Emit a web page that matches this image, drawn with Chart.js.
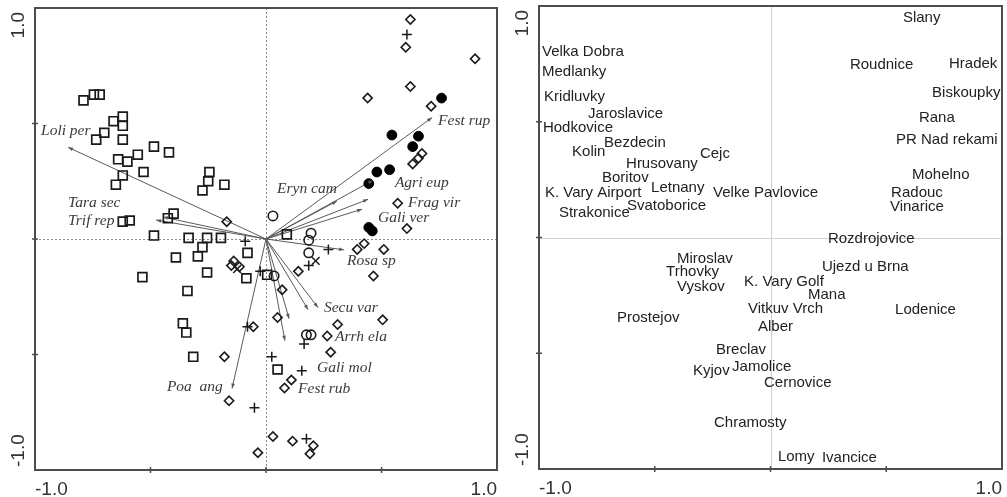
<!DOCTYPE html>
<html><head><meta charset="utf-8">
<script src="https://cdn.jsdelivr.net/npm/chart.js@4"></script>
<style>
html,body{margin:0;padding:0;background:#fff;}
#wrap{position:relative;width:1007px;height:497px;overflow:hidden;background:#fff;}
canvas{position:absolute;top:0;}
#c1{left:0;}
#c2{left:505px;}
</style></head><body>
<div id="wrap"><canvas id="c1" width="510" height="497"></canvas><canvas id="c2" width="502" height="497"></canvas></div>
<script>
// ---------- DATA (left panel: samples & species) ----------
const squares = [[-0.79,0.60],[-0.745,0.625],[-0.72,0.625],[-0.66,0.51],[-0.62,0.53],[-0.62,0.49],[-0.70,0.46],[-0.735,0.43],[-0.62,0.43],[-0.485,0.40],[-0.42,0.375],[-0.64,0.345],[-0.60,0.335],[-0.555,0.365],[-0.53,0.29],[-0.62,0.275],[-0.65,0.235],[-0.245,0.29],[-0.25,0.25],[-0.275,0.21],[-0.18,0.235],[-0.40,0.11],[-0.425,0.09],[-0.62,0.075],[-0.59,0.08],[-0.485,0.015],[-0.335,0.005],[-0.255,0.005],[-0.195,0.005],[-0.275,-0.035],[-0.39,-0.08],[-0.295,-0.075],[-0.08,-0.06],[-0.535,-0.165],[-0.255,-0.145],[-0.085,-0.17],[0.005,-0.155],[-0.34,-0.225],[-0.36,-0.365],[-0.345,-0.405],[-0.315,-0.51],[0.09,0.02],[0.05,-0.565]];
const diamonds = [[0.625,0.95],[0.605,0.83],[0.905,0.78],[0.625,0.66],[0.44,0.61],[0.715,0.575],[0.675,0.37],[0.66,0.35],[0.635,0.325],[0.57,0.155],[0.61,0.045],[-0.17,0.075],[-0.14,-0.095],[-0.15,-0.115],[-0.115,-0.12],[0.395,-0.045],[0.425,-0.02],[0.51,-0.045],[0.14,-0.14],[0.465,-0.16],[0.07,-0.22],[0.05,-0.34],[-0.055,-0.38],[0.31,-0.37],[0.505,-0.35],[0.265,-0.42],[0.28,-0.49],[-0.18,-0.51],[0.11,-0.61],[0.08,-0.645],[-0.16,-0.70],[0.03,-0.855],[0.115,-0.875],[0.205,-0.895],[0.19,-0.93],[-0.035,-0.925]];
const pluses = [[0.61,0.885],[-0.09,-0.01],[-0.025,-0.14],[0.27,-0.045],[0.185,-0.115],[-0.08,-0.38],[0.165,-0.455],[0.025,-0.51],[0.155,-0.57],[-0.05,-0.73],[0.175,-0.865]];
const crosses = [[-0.125,-0.13],[0.215,-0.095]];
const openCircles = [[0.03,0.10],[0.195,0.025],[0.185,-0.005],[0.185,-0.06],[0.035,-0.16],[0.175,-0.415],[0.195,-0.415]];
const filledCircles = [[0.76,0.61],[0.545,0.45],[0.66,0.445],[0.635,0.40],[0.535,0.30],[0.48,0.29],[0.445,0.24],[0.445,0.05],[0.46,0.035]];

const speciesNames = ['Loli per','Tara sec','Trif rep','Fest rup','Eryn cam','Agri eup','Frag vir','Gali ver','Rosa sp','Secu var','Arrh ela','Gali mol','Fest rub','Poa  ang'];
const speciesX = [-0.857,-0.446,-0.476,0.719,0.307,0.463,0.442,0.416,0.338,0.225,0.182,0.100,0.082,-0.147];
const speciesY = [0.397,0.095,0.082,0.526,0.164,0.254,0.172,0.129,-0.047,-0.297,-0.306,-0.345,-0.440,-0.647];
const speciesLabelX = [-0.974,-0.857,-0.857,0.745,0.048,0.558,0.615,0.485,0.351,0.251,0.299,0.221,0.139,-0.429];
const speciesLabelY = [0.470,0.155,0.078,0.509,0.216,0.241,0.155,0.091,-0.095,-0.297,-0.422,-0.556,-0.647,-0.642];

// ---------- DATA (right panel: sites) ----------
const siteNames = ['Velka Dobra','Medlanky','Kridluvky','Jaroslavice','Hodkovice','Bezdecin','Kolin','Cejc','Hrusovany','Boritov','Letnany','K. Vary Airport','Velke Pavlovice','Svatoborice','Strakonice','Slany','Roudnice','Hradek','Biskoupky','Rana','PR Nad rekami','Mohelno','Radouc','Vinarice','Rozdrojovice','Miroslav','Trhovky','Vyskov','K. Vary Golf','Ujezd u Brna','Mana','Prostejov','Vitkuv Vrch','Lodenice','Alber','Breclav','Kyjov','Jamolice','Cernovice','Chramosty','Lomy','Ivancice'];
const siteX = [-0.987,-0.987,-0.978,-0.788,-0.983,-0.719,-0.857,-0.305,-0.624,-0.728,-0.516,-0.974,-0.248,-0.620,-0.914,0.572,0.343,0.771,0.698,0.641,0.542,0.611,0.521,0.516,0.248,-0.404,-0.451,-0.404,-0.114,0.222,0.162,-0.663,-0.097,0.538,-0.054,-0.235,-0.335,-0.166,-0.028,-0.244,0.032,0.222];
const siteY = [0.801,0.715,0.607,0.533,0.473,0.408,0.369,0.361,0.317,0.257,0.214,0.192,0.192,0.136,0.106,0.948,0.745,0.749,0.624,0.516,0.421,0.270,0.192,0.132,-0.004,-0.093,-0.149,-0.214,-0.192,-0.127,-0.248,-0.348,-0.309,-0.313,-0.387,-0.486,-0.577,-0.559,-0.629,-0.801,-0.948,-0.952];

// ---------- AXES ----------
const axisMin = -1, axisMax = 1;
const axisEndLabels = ['-1.0','1.0'];
const innerTicks = [-0.5, 0, 0.5];

const pts = arr => arr.map(p => ({x:p[0], y:p[1]}));

function framePlugin(zeroColor, zeroDash) {
  return {
    id: 'frame',
    beforeDatasetsDraw(chart) {
      const {ctx, chartArea:a, scales:{x, y}} = chart;
      ctx.save();
      ctx.strokeStyle = zeroColor; ctx.lineWidth = 1; ctx.setLineDash(zeroDash);
      const x0 = Math.round(x.getPixelForValue(0)) + 0.5, y0 = Math.round(y.getPixelForValue(0)) + 0.5;
      ctx.beginPath();
      ctx.moveTo(x0, a.top); ctx.lineTo(x0, a.bottom);
      ctx.moveTo(a.left, y0); ctx.lineTo(a.right, y0);
      ctx.stroke();
      ctx.restore();
    },
    afterDatasetsDraw(chart) {
      const {ctx, chartArea:a, scales:{x, y}} = chart;
      ctx.save();
      ctx.strokeStyle = '#4d4d4d'; ctx.lineWidth = 2;
      ctx.strokeRect(a.left, a.top, a.right - a.left, a.bottom - a.top);
      ctx.lineWidth = 1.5;
      ctx.beginPath();
      innerTicks.forEach(v => {
        const px = x.getPixelForValue(v), py = y.getPixelForValue(v);
        ctx.moveTo(px, a.bottom - 3); ctx.lineTo(px, a.bottom + 3);
        ctx.moveTo(a.left - 3, py); ctx.lineTo(a.left + 3, py);
      });
      ctx.stroke();
      ctx.fillStyle = '#333';
      ctx.font = '19px "Liberation Sans", Arial, sans-serif';
      ctx.textBaseline = 'alphabetic';
      ctx.textAlign = 'left';
      ctx.fillText(axisEndLabels[0], x.getPixelForValue(axisMin), a.bottom + 25);
      ctx.textAlign = 'right';
      ctx.fillText(axisEndLabels[1], x.getPixelForValue(axisMax), a.bottom + 25);
      ctx.textBaseline = 'middle';
      ctx.save();
      ctx.translate(a.left - 16, y.getPixelForValue(axisMax) + 4);
      ctx.rotate(-Math.PI / 2);
      ctx.textAlign = 'right';
      ctx.fillText(axisEndLabels[1], 0, 0);
      ctx.restore();
      ctx.save();
      ctx.translate(a.left - 16, y.getPixelForValue(axisMin) - 3);
      ctx.rotate(-Math.PI / 2);
      ctx.textAlign = 'left';
      ctx.fillText(axisEndLabels[0], 0, 0);
      ctx.restore();
      ctx.restore();
    }
  };
}

const speciesPlugin = {
  id: 'species',
  afterDatasetsDraw(chart) {
    const {ctx, scales:{x, y}} = chart;
    ctx.save();
    const ox = x.getPixelForValue(0), oy = y.getPixelForValue(0);
    ctx.fillStyle = '#555';
    speciesNames.forEach((n, i) => {
      const tx = x.getPixelForValue(speciesX[i]), ty = y.getPixelForValue(speciesY[i]);
      const ang = Math.atan2(ty - oy, tx - ox);
      const L = 5, W = 1.8;
      ctx.beginPath();
      ctx.moveTo(tx, ty);
      ctx.lineTo(tx - L*Math.cos(ang) + W*Math.sin(ang), ty - L*Math.sin(ang) - W*Math.cos(ang));
      ctx.lineTo(tx - L*Math.cos(ang) - W*Math.sin(ang), ty - L*Math.sin(ang) + W*Math.cos(ang));
      ctx.closePath();
      ctx.fill();
    });
    ctx.fillStyle = '#3a3a3a';
    ctx.font = 'italic 15.5px "Liberation Serif", "Times New Roman", serif';
    ctx.textAlign = 'left'; ctx.textBaseline = 'middle';
    speciesNames.forEach((n, i) => {
      ctx.fillText(n, x.getPixelForValue(speciesLabelX[i]), y.getPixelForValue(speciesLabelY[i]));
    });
    ctx.restore();
  }
};

const sitePlugin = {
  id: 'sites',
  afterDatasetsDraw(chart) {
    const {ctx, scales:{x, y}} = chart;
    ctx.save();
    ctx.fillStyle = '#222';
    ctx.font = '15px "Liberation Sans", Arial, sans-serif';
    ctx.textAlign = 'left'; ctx.textBaseline = 'middle';
    siteNames.forEach((n, i) => ctx.fillText(n, x.getPixelForValue(siteX[i]), y.getPixelForValue(siteY[i])));
    ctx.restore();
  }
};

const scaleOpts = {
  x: {type:'linear', min:axisMin, max:axisMax, display:false},
  y: {type:'linear', min:axisMin, max:axisMax, display:false}
};
const baseOpts = (pad) => ({
  responsive:false, animation:false, devicePixelRatio:1, events:[],
  layout:{padding:pad},
  plugins:{legend:{display:false}, tooltip:{enabled:false}},
  scales:scaleOpts
});

const ink = '#1a1a1a';
const arrowSets = speciesNames.map((n, i) => ({
  label:n, data:[{x:0,y:0},{x:speciesX[i],y:speciesY[i]}],
  showLine:true, borderColor:'#5a5a5a', borderWidth:1, pointRadius:0, clip:false
}));

new Chart(document.getElementById('c1'), {
  type:'scatter',
  data:{datasets:[
    {label:'squares', data:pts(squares), pointStyle:'rect', pointRadius:6.3, borderColor:ink, backgroundColor:'rgba(0,0,0,0)', borderWidth:1.7, clip:false},
    {label:'diamonds', data:pts(diamonds), pointStyle:'rectRot', pointRadius:4.6, borderColor:ink, backgroundColor:'rgba(0,0,0,0)', borderWidth:1.6, clip:false},
    {label:'plus', data:pts(pluses), pointStyle:'cross', pointRadius:5, borderColor:ink, borderWidth:1.5, clip:false},
    {label:'x', data:pts(crosses), pointStyle:'crossRot', pointRadius:5.5, borderColor:ink, borderWidth:1.5, clip:false},
    {label:'open circles', data:pts(openCircles), pointStyle:'circle', pointRadius:4.7, borderColor:ink, backgroundColor:'rgba(0,0,0,0)', borderWidth:1.6, clip:false},
    {label:'filled circles', data:pts(filledCircles), pointStyle:'circle', pointRadius:4.9, borderColor:'#000', backgroundColor:'#000', borderWidth:1, clip:false},
    ...arrowSets
  ]},
  options:baseOpts({left:35, right:13, top:6, bottom:27}),
  plugins:[framePlugin('#8a8a8a',[2,2]), speciesPlugin]
});

new Chart(document.getElementById('c2'), {
  type:'scatter',
  data:{datasets:[
    {label:'sites', data:siteX.map((v,i)=>({x:v, y:siteY[i]})), pointRadius:0}
  ]},
  options:baseOpts({left:34, right:5, top:6, bottom:28}),
  plugins:[framePlugin('#d0d0d0',[]), sitePlugin]
});
</script>
</body></html>
